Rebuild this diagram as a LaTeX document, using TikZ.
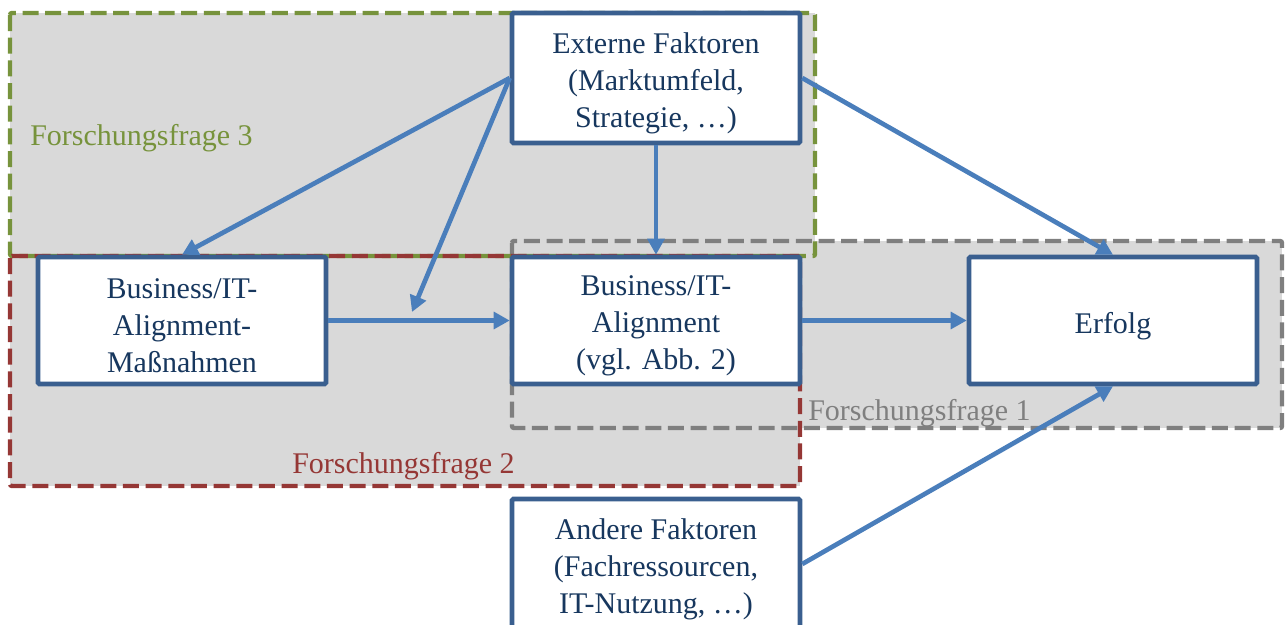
\documentclass[tikz,border=0pt]{standalone}
\usepackage{fontspec}
\setmainfont{Liberation Serif}
\usetikzlibrary{arrows.meta}
\definecolor{boxblue}{HTML}{3A5F8F}
\definecolor{arrblue}{HTML}{4A7EBB}
\definecolor{txtblue}{HTML}{17375E}
\definecolor{ffgreen}{HTML}{77933C}
\definecolor{ffred}{HTML}{953735}
\definecolor{ffgray}{HTML}{7F7F7F}
\definecolor{regfill}{HTML}{D9D9D9}
\tikzset{
  frame/.style={line width=3.3pt, dash pattern=on 12pt off 5pt, rounded corners=1.5pt},
  box/.style={draw=boxblue, fill=white, line width=3.4pt, rounded corners=1pt,
    minimum width=216pt, inner sep=0pt},
  boxtext/.style={align=center, text=txtblue, inner sep=0pt, yshift=-4pt,
    font=\fontsize{22.5}{28}\selectfont},
  arr/.style={draw=arrblue, line width=3.5pt, -{Triangle[length=12pt,width=12.5pt]}},
  fflabel/.style={anchor=west, inner sep=0pt, font=\fontsize{22.5}{28}\selectfont}
}
\begin{document}
\begin{tikzpicture}[x=0.75pt,y=-0.75pt]
\useasboundingbox (0,0) rectangle (1286,625);
\clip (0,0) rectangle (1286,625);
% regions
\fill[regfill] (10,13) rectangle (815,256);
\fill[regfill] (10,256) rectangle (800,486);
\fill[regfill] (512,241) rectangle (1282,428);
% frames
\draw[frame, draw=ffgray] (512,241) rectangle (1282,428);
\draw[frame, draw=ffgreen] (10,13) rectangle (815,256);
\draw[frame, draw=ffred] (10,256) rectangle (800,486);
% labels
\node[fflabel, text=ffgreen] (ff3) at (30,138) {Forschungsfrage 3};
\node[fflabel, text=ffred] (ff2) at (292,466) {Forschungsfrage 2};
\node[fflabel, text=ffgray] (ff1) at (808,413) {Forschungsfrage 1};
% boxes
\node[box, minimum height=97.5pt,
  label={[boxtext]center:Externe Faktoren\\(Marktumfeld,\\Strategie, \dots)}] (ext) at (656,78) {};
\node[box, minimum height=95.25pt,
  label={[boxtext]center:Business/IT-\\Alignment-\\Maßnahmen}] (bam) at (182,320.5) {};
\node[box, minimum height=95.25pt,
  label={[boxtext]center:Business/IT-\\Alignment\\(vgl. Abb. 2)}] (ba) at (656,320.5) {};
\node[box, minimum height=95.25pt,
  label={[boxtext]center:Erfolg}] (erf) at (1113,320.5) {};
\node[box, minimum height=97.5pt,
  label={[boxtext]center:Andere Faktoren\\(Fachressourcen,\\IT-Nutzung, \dots)}] (and) at (656,564) {};
\coordinate (mid) at (412,312);
% arrows
\draw[arr] (ext.west) -- (bam.north);
\draw[arr] (ext.west) -- (mid);
\draw[arr] (ext.south) -- (ba.north);
\draw[arr] (ext.east) -- (erf.north);
\draw[arr] (bam.east) -- (ba.west);
\draw[arr] (ba.east) -- (erf.west);
\draw[arr] (and.east) -- (erf.south);
\end{tikzpicture}
\end{document}
